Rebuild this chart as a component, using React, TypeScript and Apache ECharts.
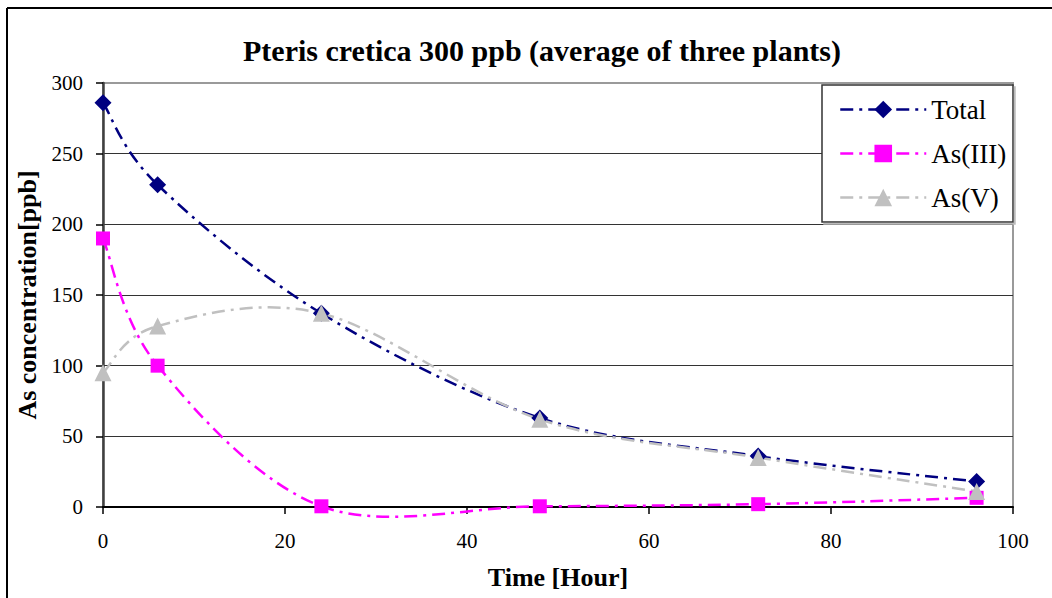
import React, { useEffect, useRef } from "react";
import * as echarts from "echarts";

const hours = [0, 6, 24, 48, 72, 96];
const totalValues = [286, 228, 137, 63, 36, 18];
const as3Values = [190, 100, 0.5, 0.5, 2, 6.5];
const as5Values = [95, 128, 137, 62, 35, 11];
const seriesNames = ["Total", "As(III)", "As(V)"];
const seriesColors = ["#000080", "#ff00ff", "#c0c0c0"];
const seriesSymbols = ["diamond", "rect", "triangle"];

const FONT = "'Liberation Serif', 'Times New Roman', serif";
const DASH = [13, 6, 3, 6];

export default function App() {
  const ref = useRef<HTMLDivElement>(null);
  useEffect(() => {
    document.body.style.margin = "0";
    const chart = echarts.init(ref.current!, null, { renderer: "svg" });
    const allValues = [totalValues, as3Values, as5Values];
    const toPairs = (vals: number[]) => hours.map((h, i) => [h, vals[i]]);

    // Excel-style smoothed curve segment (Catmull-Rom / Bezier), drawn through the axes' scales
    const curveSeries = allValues.map((vals, s) => ({
      name: seriesNames[s] + " curve",
      type: "custom",
      data: toPairs(vals),
      z: 2,
      silent: true,
      renderItem: (params: any, api: any) => {
        const i = params.dataIndex;
        const n = hours.length;
        if (i >= n - 1) return null;
        const pt = (k: number) => {
          const kk = Math.max(0, Math.min(n - 1, k));
          return api.coord([hours[kk], vals[kk]]);
        };
        const p0 = pt(i - 1);
        const p1 = pt(i);
        const p2 = pt(i + 1);
        const p3 = pt(i + 2);
        const c1 = [p1[0] + (p2[0] - p0[0]) / 6, p1[1] + (p2[1] - p0[1]) / 6];
        const c2 = [p2[0] - (p3[0] - p1[0]) / 6, p2[1] - (p3[1] - p1[1]) / 6];
        return {
          type: "bezierCurve",
          shape: {
            x1: p1[0], y1: p1[1],
            cpx1: c1[0], cpy1: c1[1],
            cpx2: c2[0], cpy2: c2[1],
            x2: p2[0], y2: p2[1],
          },
          style: {
            fill: "none",
            stroke: seriesColors[s],
            lineWidth: 2.5,
            lineDash: DASH,
          },
        };
      },
    }));

    const markerSeries = allValues.map((vals, s) => ({
      name: seriesNames[s],
      type: "line",
      data: toPairs(vals),
      clip: false,
      symbol: seriesSymbols[s],
      symbolSize: s === 1 ? 14 : 17,
      itemStyle: { color: seriesColors[s] },
      lineStyle: { color: seriesColors[s], width: 2.5, type: DASH, opacity: 0 },
      z: s === 2 ? 4 : 3,
    }));

    chart.setOption({
      animation: false,
      backgroundColor: "#ffffff",
      title: {
        text: "Pteris cretica 300 ppb (average of three plants)",
        left: 537,
        top: 30,
        textAlign: "center",
        textStyle: { fontFamily: FONT, fontWeight: "bold", fontSize: 30, color: "#000" },
      },
      grid: {
        left: 103,
        top: 83,
        width: 910,
        height: 424,
        show: true,
        borderColor: "#9a9a9a",
        borderWidth: 2,
        backgroundColor: "transparent",
      },
      legend: {
        orient: "vertical",
        left: 839,
        top: 96,
        padding: 0,
        itemGap: 17,
        itemWidth: 86,
        itemHeight: 22,
        z: 10,
        data: seriesNames.map((name, s) => ({
          name,
          lineStyle: { color: seriesColors[s], width: 2.5, type: DASH, opacity: 1 },
        })),
        textStyle: { fontFamily: FONT, fontSize: 27, color: "#000", lineHeight: 27 },
      },
      xAxis: {
        type: "value",
        min: 0,
        max: 100,
        interval: 20,
        name: "Time [Hour]",
        nameLocation: "middle",
        nameGap: 57,
        nameTextStyle: { fontFamily: FONT, fontWeight: "bold", fontSize: 26, color: "#000" },
        axisLine: { show: true, onZero: false, lineStyle: { color: "#000", width: 2 } },
        axisTick: { show: true, length: 7, inside: false, lineStyle: { color: "#000", width: 1.5 } },
        axisLabel: { fontFamily: FONT, fontSize: 21, color: "#000", margin: 23 },
        splitLine: { show: false },
      },
      yAxis: {
        type: "value",
        min: 0,
        max: 300,
        interval: 50,
        name: "As concentration[ppb]",
        nameLocation: "middle",
        nameGap: 57,
        nameTextStyle: { fontFamily: FONT, fontWeight: "bold", fontSize: 26, color: "#000" },
        axisLine: { show: true, lineStyle: { color: "#404040", width: 2.5 } },
        axisTick: { show: true, length: 7, inside: false, lineStyle: { color: "#000", width: 1.5 } },
        axisLabel: { fontFamily: FONT, fontSize: 21, color: "#000", margin: 20 },
        splitLine: {
          show: true,
          lineStyle: {
            color: ["#333", "#333", "#333", "#333", "#333", "#333", "#9a9a9a"],
            width: 1.2,
          },
        },
      },
      graphic: [
        {
          type: "rect",
          z: 3,
          shape: { x: 822, y: 85, width: 191, height: 137 },
          style: { fill: "#fff", stroke: "#333", lineWidth: 1.5, shadowColor: "#bbb", shadowOffsetX: 2, shadowOffsetY: 2 },
        },
        { type: "line", shape: { x1: 7, y1: 8, x2: 1052, y2: 8 }, style: { stroke: "#000", lineWidth: 2 } },
        { type: "line", shape: { x1: 7, y1: 8, x2: 7, y2: 598 }, style: { stroke: "#000", lineWidth: 2 } },
      ],
      series: [...curveSeries, ...markerSeries],
    });
    return () => chart.dispose();
  }, []);
  return (
    <div
      ref={ref}
      style={{ position: "absolute", left: 0, top: 0, width: 1052, height: 598 }}
    />
  );
}
